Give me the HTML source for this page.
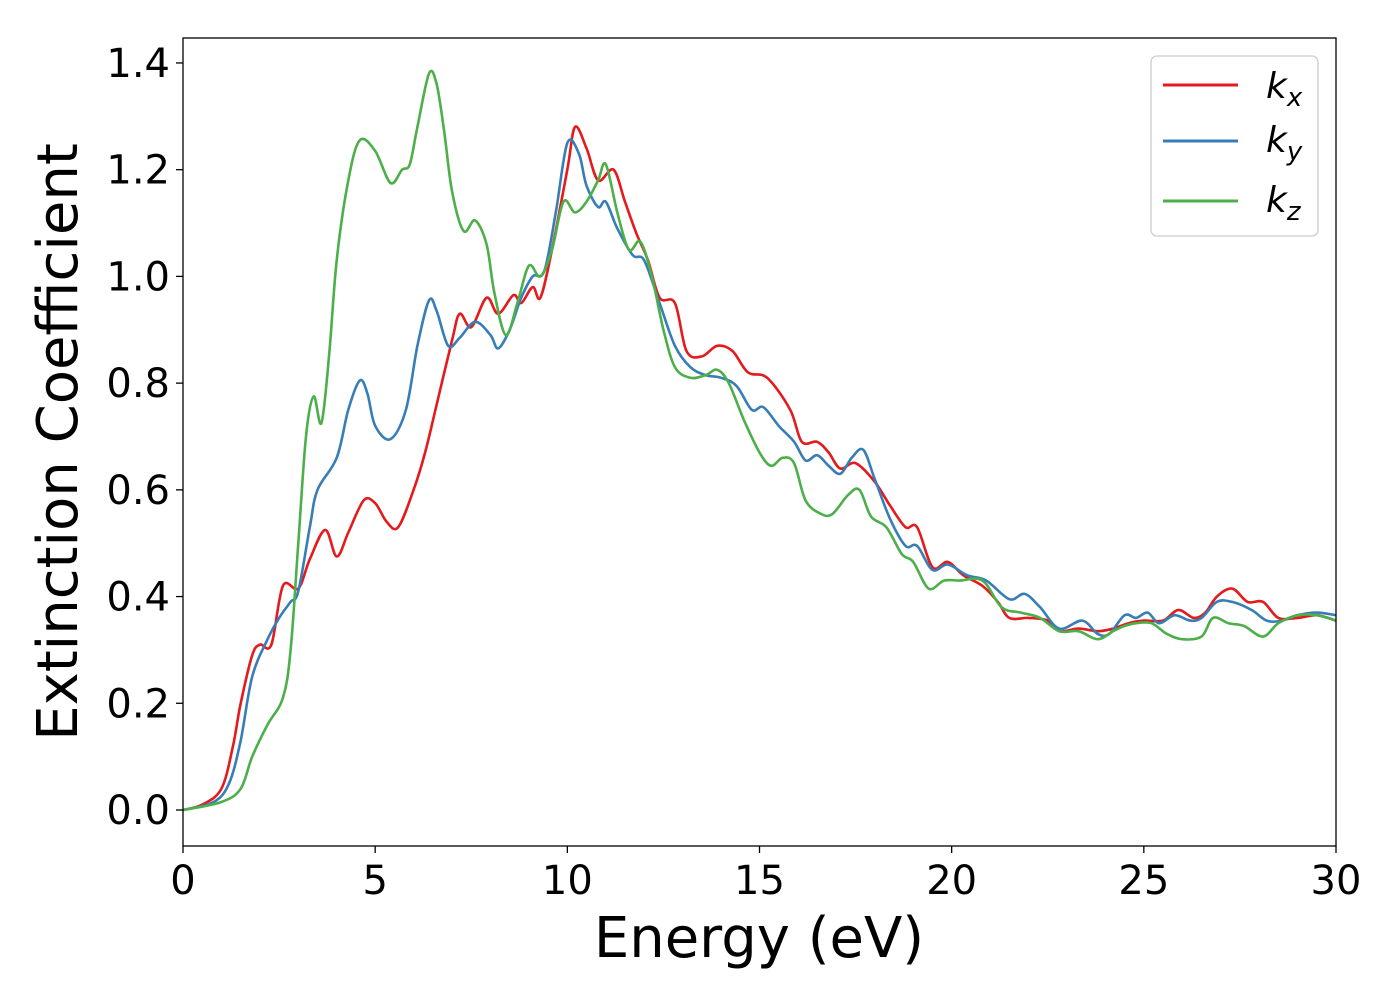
<!DOCTYPE html>
<html><head><meta charset="utf-8"><style>
html,body{margin:0;padding:0;background:#fff;}
svg text{font-family:"DejaVu Sans","Liberation Sans",sans-serif;fill:#000;}
</style></head><body>
<svg id="chart" width="1400" height="1000" viewBox="0 0 1400 1000">
<rect x="0" y="0" width="1400" height="1000" fill="#fff"/>
<g id="series"></g>
<rect x="183" y="38" width="1153" height="808" fill="none" stroke="#000" stroke-width="1.3"/>
<g id="axes"></g>
<text x="759" y="957" font-size="56" text-anchor="middle">Energy (eV)</text>
<text transform="translate(77,442) rotate(-90)" font-size="56" text-anchor="middle">Extinction Coefficient</text>
<g>
<rect x="1151" y="56" width="167" height="180" rx="6" fill="#fff" stroke="#ccc" stroke-width="1.3"/>
<line x1="1163" y1="85" x2="1238" y2="85" stroke="#e41a1c" stroke-width="3"/>
<text x="1266" y="98" font-size="36" font-style="italic">k<tspan font-size="26" dy="8">x</tspan></text>
<line x1="1163" y1="141" x2="1238" y2="141" stroke="#377eb8" stroke-width="3"/>
<text x="1266" y="152" font-size="36" font-style="italic">k<tspan font-size="26" dy="8">y</tspan></text>
<line x1="1163" y1="201" x2="1238" y2="201" stroke="#4daf4a" stroke-width="3"/>
<text x="1266" y="212" font-size="36" font-style="italic">k<tspan font-size="26" dy="8">z</tspan></text>
</g>
</svg>
<script>
const xTicks=[0,5,10,15,20,25,30];
const yTicks=[0.0,0.2,0.4,0.6,0.8,1.0,1.2,1.4];
const kxE=[0,0.5,1,1.3,1.5,1.8,2,2.3,2.6,3,3.3,3.7,4,4.3,4.7,5,5.3,5.6,6,6.3,6.6,7,7.2,7.5,7.9,8.2,8.6,8.8,9.1,9.3,9.6,10,10.2,10.5,10.8,11.2,11.5,11.8,12.1,12.4,12.8,13.1,13.5,13.9,14.3,14.7,15.2,15.8,16.1,16.5,16.8,17.1,17.5,18,18.4,18.8,19.1,19.5,19.9,20.3,20.8,21.2,21.5,22,22.5,22.8,23.3,23.8,24.2,24.6,25,25.5,25.9,26.3,26.6,26.9,27.3,27.7,28.1,28.5,29,29.5,30];
const kxV=[0,0.01,0.04,0.12,0.2,0.29,0.31,0.31,0.42,0.415,0.47,0.525,0.475,0.52,0.58,0.575,0.54,0.53,0.6,0.67,0.76,0.88,0.93,0.905,0.96,0.93,0.965,0.95,0.98,0.96,1.05,1.2,1.28,1.24,1.18,1.2,1.14,1.08,1.03,0.96,0.95,0.86,0.85,0.87,0.86,0.82,0.81,0.75,0.69,0.69,0.67,0.64,0.65,0.615,0.57,0.53,0.53,0.455,0.465,0.44,0.42,0.39,0.36,0.36,0.355,0.335,0.34,0.335,0.34,0.35,0.355,0.355,0.375,0.36,0.37,0.4,0.415,0.39,0.39,0.36,0.36,0.365,0.355];
const kyE=[0,0.8,1.2,1.5,1.8,2.2,2.5,2.8,3,3.3,3.5,4,4.3,4.6,4.8,5,5.4,5.8,6.1,6.4,6.6,6.9,7.2,7.6,8,8.2,8.5,8.8,9.1,9.4,9.7,10,10.3,10.5,10.8,11,11.3,11.7,12,12.4,12.8,13.2,13.6,14,14.4,14.8,15.1,15.5,15.9,16.2,16.5,16.8,17.1,17.4,17.7,18,18.4,18.8,19.1,19.5,19.9,20.4,20.9,21.5,21.9,22.3,22.8,23.4,23.8,24.1,24.5,24.8,25.1,25.4,25.8,26.2,26.5,26.9,27.3,27.8,28.2,28.6,29,29.5,30];
const kyV=[0,0.015,0.05,0.13,0.25,0.32,0.36,0.39,0.41,0.53,0.6,0.66,0.75,0.805,0.78,0.72,0.695,0.75,0.87,0.955,0.935,0.87,0.885,0.915,0.89,0.865,0.9,0.96,1.0,1.01,1.12,1.25,1.23,1.17,1.13,1.14,1.09,1.04,1.03,0.95,0.87,0.83,0.815,0.81,0.795,0.75,0.755,0.72,0.69,0.655,0.665,0.645,0.63,0.66,0.675,0.62,0.545,0.495,0.495,0.45,0.46,0.44,0.43,0.395,0.405,0.38,0.34,0.355,0.33,0.33,0.365,0.36,0.37,0.35,0.365,0.355,0.36,0.39,0.39,0.375,0.355,0.355,0.365,0.37,0.365];
const kzE=[0,1,1.5,1.8,2.2,2.6,2.8,3,3.2,3.4,3.6,3.8,4,4.3,4.6,5,5.4,5.7,5.9,6.1,6.4,6.6,6.8,7,7.3,7.6,7.9,8.1,8.4,8.7,9,9.3,9.6,9.9,10.2,10.5,10.8,11,11.3,11.6,11.9,12.2,12.5,12.8,13.2,13.6,13.9,14.2,14.6,15,15.3,15.6,15.9,16.2,16.6,16.9,17.3,17.6,17.9,18.3,18.7,19,19.4,19.8,20.2,20.8,21.3,21.8,22.3,22.8,23.3,23.8,24.2,24.5,24.8,25.2,25.6,26,26.5,26.8,27.2,27.6,28.1,28.5,29,29.5,30];
const kzV=[0,0.015,0.04,0.1,0.16,0.21,0.3,0.5,0.7,0.775,0.725,0.85,1.03,1.18,1.255,1.235,1.175,1.2,1.21,1.28,1.38,1.36,1.27,1.16,1.085,1.105,1.06,0.97,0.89,0.95,1.02,1.0,1.05,1.14,1.12,1.14,1.18,1.21,1.12,1.05,1.065,1.0,0.9,0.83,0.81,0.815,0.825,0.8,0.73,0.67,0.645,0.66,0.65,0.58,0.555,0.555,0.59,0.6,0.55,0.53,0.48,0.465,0.415,0.43,0.43,0.43,0.38,0.37,0.36,0.335,0.335,0.32,0.335,0.345,0.35,0.35,0.33,0.32,0.325,0.36,0.35,0.345,0.325,0.35,0.365,0.365,0.355];

const X0=183,X1=1336,Y0=810,YPER=533.6;
function sx(v){return X0+(X1-X0)*v/30;}
function sy(v){return Y0-v*YPER;}
const NS='http://www.w3.org/2000/svg';
function smoothPath(xs,ys){
  const p=xs.map((x,i)=>[sx(x),sy(ys[i])]);
  let d='M'+p[0][0].toFixed(1)+','+p[0][1].toFixed(1);
  for(let i=0;i<p.length-1;i++){
    const a=p[Math.max(0,i-1)],b=p[i],c=p[i+1],e=p[Math.min(p.length-1,i+2)];
    const c1x=b[0]+(c[0]-a[0])/6,c1y=b[1]+(c[1]-a[1])/6;
    const c2x=c[0]-(e[0]-b[0])/6,c2y=c[1]-(e[1]-b[1])/6;
    d+=' C'+c1x.toFixed(1)+','+c1y.toFixed(1)+' '+c2x.toFixed(1)+','+c2y.toFixed(1)+' '+c[0].toFixed(1)+','+c[1].toFixed(1);
  }
  return d;
}
const sg=document.getElementById('series');
[[kxE,kxV,'#e41a1c','kx'],[kyE,kyV,'#377eb8','ky'],[kzE,kzV,'#4daf4a','kz']].forEach(s=>{
  const path=document.createElementNS(NS,'path');
  path.setAttribute('d',smoothPath(s[0],s[1]));
  path.setAttribute('fill','none');
  path.setAttribute('stroke',s[2]);
  path.setAttribute('stroke-width','2.6');
  
  
  sg.appendChild(path);
});
const ag=document.getElementById('axes');
xTicks.forEach(t=>{
  const l=document.createElementNS(NS,'line');
  l.setAttribute('x1',sx(t));l.setAttribute('x2',sx(t));l.setAttribute('y1',846);l.setAttribute('y2',853);
  l.setAttribute('stroke','#000');l.setAttribute('stroke-width','1.3');
  
  
  ag.appendChild(l);
  const tx=document.createElementNS(NS,'text');
  tx.setAttribute('x',sx(t));tx.setAttribute('y',894);tx.setAttribute('font-size','40');tx.setAttribute('text-anchor','middle');
  tx.textContent=String(t);
  
  
  ag.appendChild(tx);
});
yTicks.forEach(t=>{
  const l=document.createElementNS(NS,'line');
  l.setAttribute('x1',176);l.setAttribute('x2',183);l.setAttribute('y1',sy(t));l.setAttribute('y2',sy(t));
  l.setAttribute('stroke','#000');l.setAttribute('stroke-width','1.3');
  
  
  ag.appendChild(l);
  const tx=document.createElementNS(NS,'text');
  tx.setAttribute('x',170);tx.setAttribute('y',sy(t)+14);tx.setAttribute('font-size','40');tx.setAttribute('text-anchor','end');
  tx.textContent=t.toFixed(1);
  
  
  ag.appendChild(tx);
});
</script>
</body></html>
